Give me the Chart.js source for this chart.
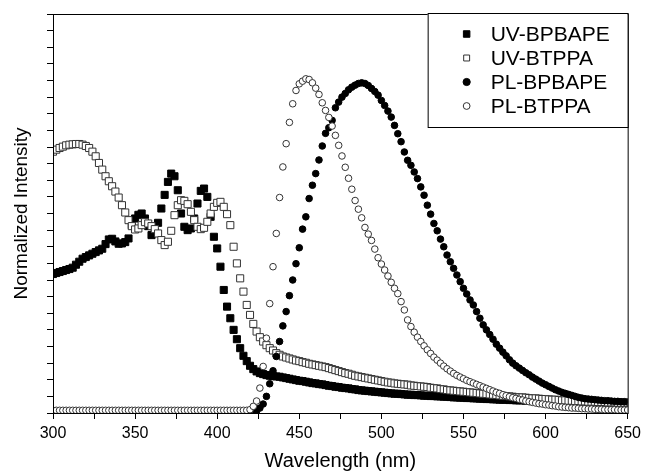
<!DOCTYPE html>
<html>
<head>
<meta charset="utf-8">
<title>UV-Vis and PL spectra</title>
<script src="https://cdn.jsdelivr.net/npm/chart.js@4.4.1/dist/chart.umd.min.js"></script>
<style>
  html, body { margin: 0; padding: 0; background: #fff; }
  canvas { display: block; }
</style>
</head>
<body>
<canvas id="spectraChart" width="646" height="472"></canvas>
<script>
const wavelengths = [
  300, 302, 304, 306, 308, 310, 312, 314, 316, 318,
  320, 322, 324, 326, 328, 330, 332, 334, 336, 338,
  340, 342, 344, 346, 348, 350, 352, 354, 356, 358,
  360, 362, 364, 366, 368, 370, 372, 374, 376, 378,
  380, 382, 384, 386, 388, 390, 392, 394, 396, 398,
  400, 402, 404, 406, 408, 410, 412, 414, 416, 418,
  420, 422, 424, 426, 428, 430, 432, 434, 436, 438,
  440, 442, 444, 446, 448, 450, 452, 454, 456, 458,
  460, 462, 464, 466, 468, 470, 472, 474, 476, 478,
  480, 482, 484, 486, 488, 490, 492, 494, 496, 498,
  500, 502, 504, 506, 508, 510, 512, 514, 516, 518,
  520, 522, 524, 526, 528, 530, 532, 534, 536, 538,
  540, 542, 544, 546, 548, 550, 552, 554, 556, 558,
  560, 562, 564, 566, 568, 570, 572, 574, 576, 578,
  580, 582, 584, 586, 588, 590, 592, 594, 596, 598,
  600, 602, 604, 606, 608, 610, 612, 614, 616, 618,
  620, 622, 624, 626, 628, 630, 632, 634, 636, 638,
  640, 642, 644, 646, 648, 650
];

const uvBpbape = [
  0.418, 0.421, 0.424, 0.427, 0.430, 0.433, 0.437, 0.446, 0.455, 0.464,
  0.469, 0.474, 0.479, 0.484, 0.489, 0.494, 0.508, 0.522, 0.524, 0.516,
  0.509, 0.510, 0.514, 0.525, 0.565, 0.585, 0.596, 0.600, 0.585, 0.562,
  0.535, 0.545, 0.572, 0.615, 0.656, 0.695, 0.720, 0.712, 0.670, 0.600,
  0.560, 0.550, 0.555, 0.585, 0.630, 0.668, 0.675, 0.650, 0.590, 0.530,
  0.495, 0.440, 0.370, 0.320, 0.285, 0.250, 0.222, 0.195, 0.172, 0.156,
  0.142, 0.132, 0.125, 0.120, 0.117, 0.114, 0.112, 0.111, 0.110, 0.109,
  0.107, 0.105, 0.103, 0.101, 0.099, 0.097, 0.096, 0.094, 0.092, 0.090,
  0.089, 0.087, 0.086, 0.084, 0.082, 0.081, 0.079, 0.078, 0.076, 0.075,
  0.074, 0.072, 0.071, 0.069, 0.068, 0.067, 0.066, 0.065, 0.064, 0.063,
  0.062, 0.061, 0.060, 0.059, 0.058, 0.058, 0.057, 0.056, 0.055, 0.055,
  0.054, 0.054, 0.053, 0.052, 0.052, 0.051, 0.051, 0.050, 0.050, 0.049,
  0.049, 0.048, 0.047, 0.047, 0.046, 0.046, 0.045, 0.045, 0.044, 0.044,
  0.043, 0.043, 0.042, 0.042, 0.041, 0.041, 0.040, 0.040, 0.040, 0.039,
  0.039, 0.038, 0.038, 0.038, 0.037, 0.037, 0.036, 0.036, 0.036, 0.035,
  0.035, 0.035, 0.034, 0.034, 0.034, 0.033, 0.033, 0.033, 0.032, 0.032,
  0.032, 0.032, 0.031, 0.031, 0.031, 0.031, 0.030, 0.030, 0.030, 0.030,
  0.030, 0.029, 0.029, 0.029, 0.029, 0.029
];

const uvBtppa = [
  0.786, 0.792, 0.797, 0.801, 0.805, 0.807, 0.808, 0.809, 0.809, 0.807,
  0.803, 0.797, 0.786, 0.772, 0.752, 0.732, 0.712, 0.697, 0.682, 0.666,
  0.648, 0.625, 0.603, 0.580, 0.562, 0.552, 0.555, 0.565, 0.574, 0.570,
  0.562, 0.553, 0.540, 0.520, 0.505, 0.515, 0.548, 0.595, 0.625, 0.640,
  0.638, 0.628, 0.605, 0.580, 0.560, 0.553, 0.557, 0.575, 0.600, 0.620,
  0.632, 0.635, 0.620, 0.598, 0.565, 0.500, 0.450, 0.405, 0.365, 0.325,
  0.295, 0.268, 0.245, 0.228, 0.215, 0.204, 0.195, 0.188, 0.180, 0.175,
  0.170, 0.167, 0.164, 0.161, 0.158, 0.156, 0.153, 0.151, 0.148, 0.146,
  0.144, 0.142, 0.140, 0.138, 0.135, 0.132, 0.129, 0.126, 0.123, 0.120,
  0.118, 0.115, 0.112, 0.110, 0.108, 0.106, 0.104, 0.102, 0.100, 0.098,
  0.096, 0.094, 0.092, 0.091, 0.089, 0.088, 0.087, 0.086, 0.085, 0.083,
  0.082, 0.081, 0.080, 0.079, 0.078, 0.076, 0.075, 0.074, 0.072, 0.071,
  0.069, 0.068, 0.067, 0.066, 0.065, 0.064, 0.063, 0.062, 0.061, 0.060,
  0.059, 0.058, 0.057, 0.056, 0.055, 0.054, 0.053, 0.052, 0.051, 0.050,
  0.049, 0.048, 0.047, 0.047, 0.046, 0.045, 0.044, 0.044, 0.043, 0.042,
  0.042, 0.041, 0.040, 0.040, 0.039, 0.038, 0.038, 0.037, 0.037, 0.036,
  0.036, 0.035, 0.035, 0.034, 0.034, 0.034, 0.033, 0.033, 0.033, 0.032,
  0.032, 0.032, 0.031, 0.031, 0.031, 0.031
];

const plBpbape = [
  null, null, null, null, null, null, null, null, null, null,
  null, null, null, null, null, null, null, null, null, null,
  null, null, null, null, null, null, null, null, null, null,
  null, null, null, null, null, null, null, null, null, null,
  null, null, null, null, null, null, null, null, null, null,
  null, null, null, null, null, null, null, null, null, null,
  null, 0.000, 0.006, 0.015, 0.027, 0.050, 0.088, 0.127, 0.170, 0.215,
  0.262, 0.305, 0.353, 0.400, 0.449, 0.497, 0.553, 0.590, 0.645, 0.685,
  0.720, 0.761, 0.803, 0.841, 0.858, 0.880, 0.918, 0.935, 0.950, 0.961,
  0.972, 0.980, 0.986, 0.991, 0.993, 0.991, 0.985, 0.976, 0.967, 0.956,
  0.940, 0.925, 0.908, 0.890, 0.865, 0.840, 0.816, 0.785, 0.760, 0.745,
  0.725, 0.705, 0.680, 0.655, 0.625, 0.598, 0.570, 0.548, 0.523, 0.500,
  0.475, 0.455, 0.435, 0.415, 0.395, 0.375, 0.358, 0.340, 0.325, 0.305,
  0.285, 0.265, 0.250, 0.236, 0.222, 0.207, 0.195, 0.183, 0.172, 0.160,
  0.150, 0.142, 0.135, 0.128, 0.121, 0.115, 0.108, 0.102, 0.096, 0.090,
  0.085, 0.080, 0.075, 0.070, 0.066, 0.062, 0.059, 0.056, 0.053, 0.050,
  0.047, 0.045, 0.043, 0.042, 0.041, 0.040, 0.039, 0.038, 0.037, 0.037,
  0.036, 0.035, 0.035, 0.034, 0.034, 0.033
];

const plBtppa = [
  0.008, 0.008, 0.008, 0.008, 0.008, 0.008, 0.008, 0.008, 0.008, 0.008,
  0.008, 0.008, 0.008, 0.008, 0.008, 0.008, 0.008, 0.008, 0.008, 0.008,
  0.008, 0.008, 0.008, 0.008, 0.008, 0.008, 0.008, 0.008, 0.008, 0.008,
  0.008, 0.008, 0.008, 0.008, 0.008, 0.008, 0.008, 0.008, 0.008, 0.008,
  0.008, 0.008, 0.008, 0.008, 0.008, 0.008, 0.008, 0.008, 0.008, 0.008,
  0.008, 0.008, 0.008, 0.008, 0.008, 0.008, 0.008, 0.008, 0.008, 0.008,
  0.010, 0.020, 0.036, 0.075, 0.140, 0.225, 0.329, 0.440, 0.540, 0.648,
  0.740, 0.810, 0.874, 0.930, 0.970, 0.990, 0.998, 1.005, 1.003, 0.993,
  0.977, 0.958, 0.933, 0.910, 0.889, 0.863, 0.835, 0.805, 0.773, 0.739,
  0.706, 0.673, 0.639, 0.613, 0.587, 0.558, 0.538, 0.519, 0.493, 0.467,
  0.448, 0.430, 0.412, 0.393, 0.375, 0.359, 0.335, 0.310, 0.280, 0.260,
  0.243, 0.228, 0.215, 0.202, 0.190, 0.179, 0.168, 0.159, 0.150, 0.141,
  0.133, 0.126, 0.119, 0.113, 0.108, 0.103, 0.098, 0.094, 0.090, 0.086,
  0.082, 0.078, 0.074, 0.070, 0.066, 0.062, 0.059, 0.055, 0.052, 0.049,
  0.046, 0.044, 0.041, 0.039, 0.036, 0.034, 0.032, 0.030, 0.028, 0.027,
  0.025, 0.024, 0.022, 0.021, 0.019, 0.018, 0.017, 0.016, 0.015, 0.015,
  0.014, 0.013, 0.013, 0.012, 0.012, 0.011, 0.011, 0.011, 0.010, 0.010,
  0.010, 0.010, 0.009, 0.009, 0.009, 0.009
];

const seriesNames = ['UV-BPBAPE', 'UV-BTPPA', 'PL-BPBAPE', 'PL-BTPPA'];
const xTickLabels = [300, 350, 400, 450, 500, 550, 600, 650];

const fontFamily = "'Liberation Sans', Arial, Helvetica, sans-serif";
Chart.defaults.font.family = fontFamily;
Chart.defaults.color = '#000';

function toPoints(values) {
  const points = [];
  values.forEach((v, i) => {
    if (v !== null) points.push({ x: wavelengths[i], y: v });
  });
  return points;
}

// marker look of each series, same order as seriesNames
const markers = [
  { style: 'rect', radius: 5, fill: '#000', line: '#000', legendRadius: 4.6 },
  { style: 'rect', radius: 5, fill: '#fff', line: '#333', legendRadius: 4.2 },
  { style: 'circle', radius: 3.3, fill: '#000', line: '#000', legendRadius: 3.6 },
  { style: 'circle', radius: 3.3, fill: '#fff', line: '#333', legendRadius: 3.4 }
];

const seriesValues = [uvBpbape, uvBtppa, plBpbape, plBtppa];

const datasets = seriesNames.map((name, i) => ({
  label: name,
  data: toPoints(seriesValues[i]),
  showLine: false,
  pointStyle: markers[i].style,
  pointRadius: markers[i].radius,
  pointHoverRadius: markers[i].radius,
  pointBackgroundColor: markers[i].fill,
  pointBorderColor: markers[i].line,
  pointBorderWidth: 1,
  order: 4 - i
}));

// boxed legend in the upper right corner of the plot, plus the frame
const frameAndLegend = {
  id: 'frameAndLegend',
  afterDraw(chart) {
    const ctx = chart.ctx;
    const area = chart.chartArea;
    ctx.save();
    ctx.strokeStyle = '#000';
    ctx.lineWidth = 1;
    ctx.strokeRect(area.left + 0.5, area.top + 0.5, area.right - area.left, area.bottom - area.top);

    const boxLeft = area.right - 200;
    const boxTop = area.top - 1;
    ctx.fillStyle = '#fff';
    ctx.fillRect(boxLeft, boxTop, 200, 114);
    ctx.strokeRect(boxLeft + 0.5, boxTop + 0.5, 200, 114);

    ctx.font = '21px ' + fontFamily;
    ctx.textBaseline = 'middle';
    ctx.textAlign = 'left';
    seriesNames.forEach((name, i) => {
      const y = boxTop + 21 + i * 24;
      const m = markers[i];
      ctx.fillStyle = m.fill;
      ctx.strokeStyle = m.line;
      ctx.lineWidth = 1;
      Chart.helpers.drawPoint(ctx, { pointStyle: m.style, radius: m.legendRadius, borderWidth: 1, rotation: 0 }, boxLeft + 39, y);
      ctx.fillStyle = '#000';
      ctx.fillText(name, boxLeft + 63, y + 1);
    });
    ctx.restore();
  }
};

new Chart(document.getElementById('spectraChart'), {
  type: 'scatter',
  data: { datasets: datasets },
  options: {
    responsive: false,
    animation: false,
    layout: { padding: { top: 14, right: 16, left: 0, bottom: 0 } },
    plugins: {
      legend: { display: false },
      tooltip: { enabled: false }
    },
    scales: {
      x: {
        type: 'linear',
        min: 300,
        max: 650,
        afterFit: (scale) => { scale.height = 59; },
        ticks: {
          stepSize: 25,
          padding: 5,
          maxRotation: 0,
          autoSkip: false,
          font: { size: 16 },
          callback: (v) => xTickLabels.includes(v) ? String(v) : ''
        },
        grid: { drawOnChartArea: false, drawTicks: true, tickLength: 6, tickColor: '#000', tickWidth: 1 },
        border: { display: true, color: '#000', width: 1 },
        title: {
          display: true,
          text: 'Wavelength (nm)',
          font: { size: 20, lineHeight: 1.1 },
          padding: { top: 0, bottom: 0 }
        }
      },
      y: {
        min: 0,
        max: 1.2,
        afterFit: (scale) => { scale.width = 53; },
        ticks: { stepSize: 0.05, display: false },
        grid: { drawOnChartArea: false, drawTicks: true, tickLength: 6, tickColor: '#000', tickWidth: 1 },
        border: { display: true, color: '#000', width: 1 },
        title: {
          display: true,
          text: 'Normalized Intensity',
          font: { size: 19, lineHeight: 1.2 },
          padding: { top: 10, bottom: 0 }
        }
      }
    }
  },
  plugins: [frameAndLegend]
});
</script>
</body>
</html>
